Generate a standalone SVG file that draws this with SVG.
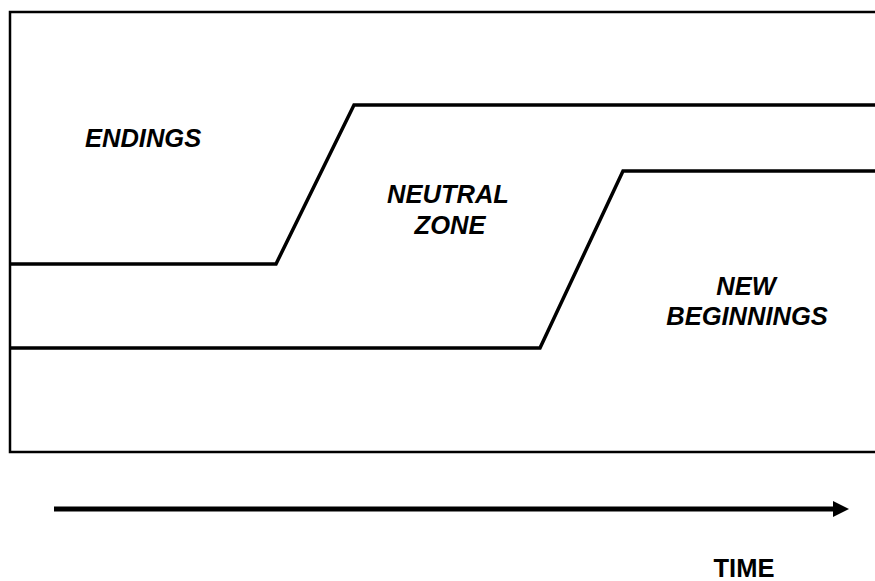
<svg xmlns="http://www.w3.org/2000/svg" width="875" height="581" viewBox="0 0 875 581">
<style>
.lbl{font-family:"Liberation Sans",Arial,sans-serif;font-weight:bold;font-style:italic;font-size:25.5px;fill:#000}
.time{font-family:"Liberation Sans",Arial,sans-serif;font-weight:bold;font-size:25.5px;fill:#000}
.ln{fill:none;stroke:#000;stroke-width:3.5;stroke-linejoin:miter}
</style>
<rect id="frame" x="10" y="12" width="880" height="440" fill="#fff" stroke="#000" stroke-width="2.5"/>
<g id="connectors">
<polyline class="ln" points="10,264 276,264 354,105 877,105"/>
<polyline class="ln" points="10,348 540,348 623,171 877,171"/>
<line x1="54" y1="509" x2="836" y2="509" stroke="#000" stroke-width="5"/>
<polygon points="833,501 849,509 833,517" fill="#000"/>
</g>
<g id="endings"><text class="lbl" x="85" y="147">ENDINGS</text></g>
<g id="neutral"><text class="lbl" x="448" y="203" text-anchor="middle">NEUTRAL</text><text class="lbl" x="450" y="234" text-anchor="middle">ZONE</text></g>
<g id="new"><text class="lbl" x="746" y="295" text-anchor="middle">NEW</text><text class="lbl" x="747" y="325" text-anchor="middle">BEGINNINGS</text></g>
<g id="time"><text class="time" x="744" y="577" text-anchor="middle">TIME</text></g>
</svg>
